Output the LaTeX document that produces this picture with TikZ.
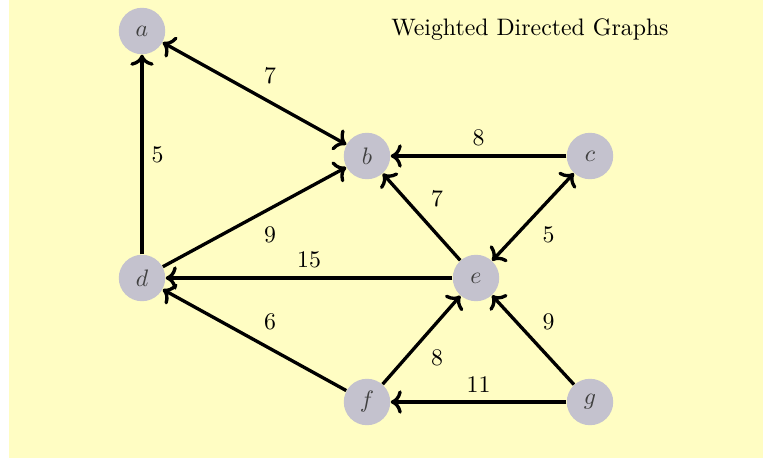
\documentclass[tikz,border=0pt]{standalone}
\usetikzlibrary{arrows.meta}
\definecolor{paper}{RGB}{255,253,195}
\definecolor{vfill}{RGB}{196,194,206}
\begin{document}
\begin{tikzpicture}[x=.42pt,y=-.42pt,>=To,
  vertex/.style={circle,fill=vfill,minimum size=19.5pt,inner sep=0pt,text=black!75},
  edge/.style={line width=1.4pt}]
\useasboundingbox (0,0) rectangle (763,458);
\fill[paper] (9,0) rectangle (763,458);
\node (title) at (530,30) {Weighted Directed Graphs};
\foreach \n/\x/\y in {a/142/31,b/367/156,c/590/156,d/142/278,e/476/278,f/367/402,g/590/402}
  \node[vertex] (\n) at (\x,\y) {$\n$};
\foreach \s/\t/\w/\p in {d/a/5/right,d/b/9/below right,e/d/15/above,f/d/6/above right,c/b/8/above,e/b/7/above right,f/e/8/below right,g/e/9/above right,g/f/11/above}
  \draw[edge,->] (\s) -- (\t) node[midway,\p] {\w};
\draw[edge,<->] (a) -- (b) node[midway,above right] {7};
\draw[edge,<->] (c) -- (e) node[midway,below right] {5};
\end{tikzpicture}
\end{document}
